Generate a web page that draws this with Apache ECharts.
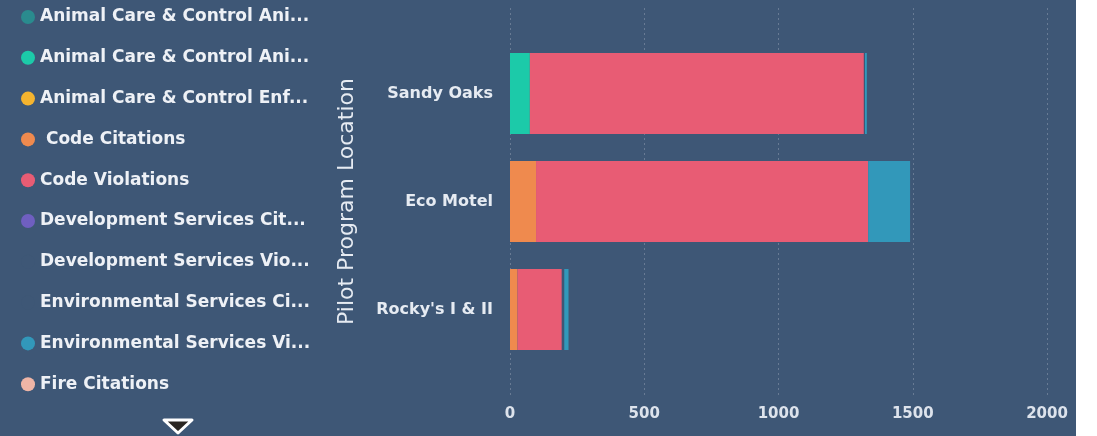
<!DOCTYPE html>
<html><head><meta charset="utf-8">
<script src="https://cdn.jsdelivr.net/npm/echarts@6/dist/echarts.min.js"></script>
<style>html,body{margin:0;padding:0;background:#fff}#c{width:1076px;height:436px}</style>
</head><body><div id="c"></div>
<script>
// categories (top to bottom)
const locations = ["Sandy Oaks", "Eco Motel", "Rocky's I & II"];
const xTicks = [0, 500, 1000, 1500, 2000];

// series values per location
const accAnimal1     = [0, 0, 0];
const accAnimal2     = [74, 0, 0];
const accEnforcement = [0, 0, 0];
const codeCitations  = [0, 97, 28];
const codeViolations = [1244, 1237, 165];
const devCitations   = [0, 0, 0];
const devViolations  = [4, 0, 9];
const envCitations   = [0, 0, 0];
const envViolations  = [7, 156, 16];
const fireCitations  = [0, 0, 0];

const seriesNames = [
  "Animal Care & Control Animal Citations",
  "Animal Care & Control Animal Violations",
  "Animal Care & Control Enforcement",
  " Code Citations",
  "Code Violations",
  "Development Services Citations",
  "Development Services Violations",
  "Environmental Services Citations",
  "Environmental Services Violations",
  "Fire Citations"
];
// legend labels as shown (truncated)
const legendLabels = [
  "Animal Care & Control Ani...",
  "Animal Care & Control Ani...",
  "Animal Care & Control Enf...",
  " Code Citations",
  "Code Violations",
  "Development Services Cit...",
  "Development Services Vio...",
  "Environmental Services Ci...",
  "Environmental Services Vi...",
  "Fire Citations"
];
const seriesValues = [accAnimal1, accAnimal2, accEnforcement, codeCitations, codeViolations,
  devCitations, devViolations, envCitations, envViolations, fireCitations];
const BG = '#3e5776';
const seriesColors = ['#2a8b8e', '#1ccaa9', '#f4b42f', '#ef8a4e', '#e85c74',
  '#6f5fc0', BG, BG, '#3298ba', '#efb5a6'];

const FONT = '"DejaVu Sans", sans-serif';
const chart = echarts.init(document.getElementById('c'));
chart.setOption({
  backgroundColor: BG,
  animation: false,
  legend: {
    orient: 'vertical', left: 21, top: 7, padding: 0,
    itemWidth: 14, itemHeight: 14, itemGap: 20.8, itemTextGap: 5,
    icon: 'circle',
    data: seriesNames,
    formatter: n => legendLabels[seriesNames.indexOf(n)],
    textStyle: { color: '#eef1f6', fontSize: 17, fontWeight: 'bold', fontFamily: FONT, lineHeight: 20 }
  },
  grid: [
    { left: 510, right: 29, top: 39.5, bottom: 72.5 },
    { left: 510, right: 29, top: 8, bottom: 41 }
  ],
  xAxis: [
    { gridIndex: 0, type: 'value', min: 0, max: 2000, interval: 500, show: false },
    { gridIndex: 1, type: 'value', min: 0, max: 2000, interval: 500,
      axisLine: { show: false }, axisTick: { show: false },
      axisLabel: { color: '#dde3ec', fontSize: 15, fontWeight: 'bold', fontFamily: FONT, margin: 12,
        formatter: v => xTicks.includes(v) ? String(v) : '' },
      splitLine: { show: true, lineStyle: { color: 'rgba(255,255,255,0.22)', type: [2, 3], width: 1 } } }
  ],
  yAxis: [
    { gridIndex: 0, type: 'category', data: locations, inverse: true,
      axisLine: { show: false }, axisTick: { show: false },
      axisLabel: { color: '#e6ebf2', fontSize: 16, fontWeight: 'bold', fontFamily: FONT, margin: 17 },
      name: 'Pilot Program Location', nameLocation: 'middle', nameGap: 152,
      nameTextStyle: { color: '#e6ebf2', fontSize: 22, fontWeight: 'normal', fontFamily: FONT } },
    { gridIndex: 1, type: 'category', data: locations, show: false }
  ],
  series: seriesNames.map((n, i) => ({
    name: n, type: 'bar', stack: 'total', xAxisIndex: 0, yAxisIndex: 0,
    barWidth: '75%', data: seriesValues[i], itemStyle: { color: seriesColors[i] }
  })),
  graphic: [{
    type: 'polygon', shape: { points: [[164, 420], [192, 420], [178, 433]] },
    style: { fill: '#2b2622', stroke: '#ffffff', lineWidth: 3, lineJoin: 'round' }
  }]
});
</script></body></html>
